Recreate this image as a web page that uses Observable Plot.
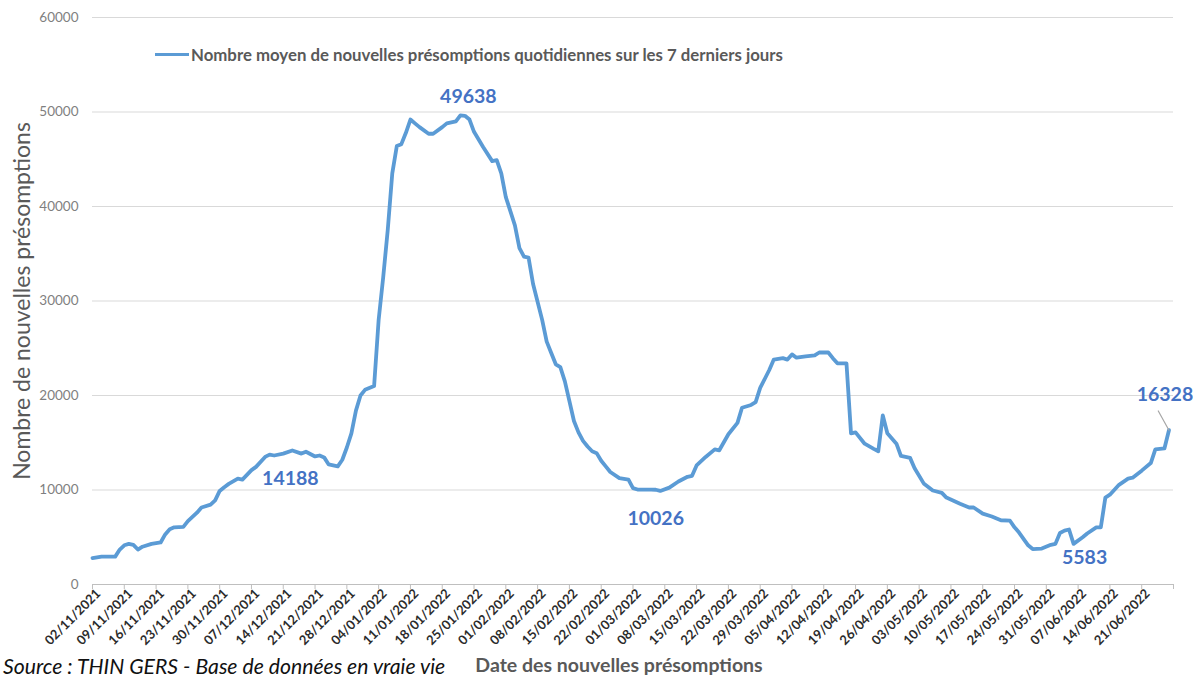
<!DOCTYPE html>
<html>
<head>
<meta charset="utf-8">
<script src="https://cdn.jsdelivr.net/npm/d3@7"></script>
<script src="https://cdn.jsdelivr.net/npm/@observablehq/plot@0.6"></script>
<style>
  body { margin: 0; background: #fff; }
  #wrap { position: relative; width: 1193px; height: 678px; overflow: hidden; font-family: Lato, "Open Sans", sans-serif; }
  #legend { position: absolute; left: 155px; top: 44px; display: flex; align-items: center; font-weight: bold; font-size: 16.8px; color: #595959; white-space: nowrap; }
  #legend .sw { width: 34px; height: 3.5px; background: #5B9BD5; margin-right: 2px; }
  #source { position: absolute; left: 3px; top: 656px; font-style: italic; font-size: 21.2px; line-height: 20px; color: #111; white-space: nowrap; }
</style>
</head>
<body>
<div id="wrap">
  <div id="chart"></div>
  <div id="legend"><div class="sw"></div><span id="legendText"></span></div>
  <div id="source"></div>
</div>
<script>
// ---- data ----
const dates = [
  "2021-11-02","2021-11-04","2021-11-07","2021-11-08","2021-11-09","2021-11-10","2021-11-11","2021-11-12","2021-11-13","2021-11-15",
  "2021-11-17","2021-11-18","2021-11-19","2021-11-20","2021-11-22","2021-11-23","2021-11-25","2021-11-26","2021-11-28","2021-11-29",
  "2021-11-30","2021-12-01","2021-12-02","2021-12-04","2021-12-05","2021-12-07","2021-12-08","2021-12-10","2021-12-11","2021-12-12",
  "2021-12-14","2021-12-16","2021-12-18","2021-12-19","2021-12-21","2021-12-22","2021-12-23","2021-12-24","2021-12-26","2021-12-27",
  "2021-12-28","2021-12-29","2021-12-30","2021-12-31","2022-01-01","2022-01-03","2022-01-04","2022-01-05","2022-01-06","2022-01-07",
  "2022-01-08","2022-01-09","2022-01-10","2022-01-11","2022-01-12","2022-01-13","2022-01-15","2022-01-16","2022-01-18","2022-01-19",
  "2022-01-21","2022-01-22","2022-01-23","2022-01-24","2022-01-25","2022-01-27","2022-01-29","2022-01-30","2022-01-31","2022-02-01",
  "2022-02-03","2022-02-04","2022-02-05","2022-02-06","2022-02-07","2022-02-09","2022-02-10","2022-02-11","2022-02-12","2022-02-13",
  "2022-02-14","2022-02-15","2022-02-16","2022-02-17","2022-02-18","2022-02-19","2022-02-20","2022-02-21","2022-02-22","2022-02-23",
  "2022-02-24","2022-02-26","2022-02-28","2022-03-01","2022-03-02","2022-03-05","2022-03-06","2022-03-07","2022-03-09","2022-03-11",
  "2022-03-13","2022-03-14","2022-03-15","2022-03-17","2022-03-19","2022-03-20","2022-03-22","2022-03-24","2022-03-25","2022-03-27",
  "2022-03-28","2022-03-29","2022-03-31","2022-04-01","2022-04-03","2022-04-04","2022-04-05","2022-04-06","2022-04-08","2022-04-10",
  "2022-04-11","2022-04-13","2022-04-14","2022-04-15","2022-04-17","2022-04-18","2022-04-19","2022-04-21","2022-04-23","2022-04-24",
  "2022-04-25","2022-04-26","2022-04-28","2022-04-29","2022-05-01","2022-05-02","2022-05-04","2022-05-06","2022-05-08","2022-05-09",
  "2022-05-12","2022-05-14","2022-05-15","2022-05-17","2022-05-19","2022-05-21","2022-05-23","2022-05-24","2022-05-25","2022-05-27",
  "2022-05-28","2022-05-30","2022-06-01","2022-06-02","2022-06-03","2022-06-04","2022-06-05","2022-06-06","2022-06-08","2022-06-09",
  "2022-06-11","2022-06-12","2022-06-13","2022-06-14","2022-06-16","2022-06-18","2022-06-19","2022-06-21","2022-06-23","2022-06-24",
  "2022-06-26","2022-06-27"
];
const values = [
  2800,2950,2950,3700,4150,4300,4200,3700,4000,4300,
  4450,5300,5850,6050,6100,6700,7600,8150,8450,8900,
  9900,10300,10650,11200,11100,12100,12450,13500,13750,13650,
  13850,14188,13850,14050,13550,13650,13450,12700,12500,13200,
  14500,16000,18400,20000,20600,21000,28000,32500,37500,43500,
  46400,46600,47800,49200,48800,48400,47700,47700,48400,48800,
  49000,49638,49600,49200,47900,46300,44800,44900,43500,41000,
  38000,35600,34700,34600,31800,28000,25700,24500,23300,23000,
  21500,19400,17300,16100,15200,14600,14100,13900,13100,12500,
  11900,11250,11100,10200,10050,10050,10026,9900,10250,10900,
  11400,11500,12600,13500,14300,14200,15900,17100,18700,19000,
  19300,20800,22700,23800,23950,23800,24350,24000,24150,24250,
  24550,24550,23950,23400,23400,16000,16100,14900,14350,14100,
  17900,16000,14900,13600,13400,12300,10700,9950,9700,9200,
  8550,8150,8150,7500,7200,6800,6750,6050,5500,4150,
  3750,3800,4200,4300,5450,5700,5820,4300,5000,5400,
  6050,6050,9200,9500,10550,11200,11300,12050,12850,14300,
  14400,16328
];
const tickDates = [
  "2021-11-02","2021-11-09","2021-11-16","2021-11-23","2021-11-30","2021-12-07","2021-12-14","2021-12-21","2021-12-28",
  "2022-01-04","2022-01-11","2022-01-18","2022-01-25","2022-02-01","2022-02-08","2022-02-15","2022-02-22",
  "2022-03-01","2022-03-08","2022-03-15","2022-03-22","2022-03-29","2022-04-05","2022-04-12","2022-04-19","2022-04-26",
  "2022-05-03","2022-05-10","2022-05-17","2022-05-24","2022-05-31","2022-06-07","2022-06-14","2022-06-21"
];
const axisEnd = "2022-06-28";
const yTicks = [0, 10000, 20000, 30000, 40000, 50000, 60000];
const labelDates = ["2021-12-16","2022-01-22","2022-03-06","2022-06-06","2022-06-27"];
const labelValues = [14188, 49638, 10026, 5583, 16328];
const legendLabel = "Nombre moyen de nouvelles présomptions quotidiennes sur les 7 derniers jours";
const yTitle = "Nombre de nouvelles présomptions";
const xTitle = "Date des nouvelles présomptions";
const sourceText = "Source : THIN GERS - Base de données en vraie vie";

// ---- chart ----
const data = dates.map((d, i) => ({date: new Date(d), value: values[i]}));
const labels = labelDates.map((d, i) => ({date: new Date(d), value: labelValues[i], text: String(labelValues[i])}));
const labelOffsets = [[-2, 28], [8, -19], [0, 29], [11, 26], [-4, -35]];
const fmt = d3.utcFormat("%d/%m/%Y");
const endDate = new Date(axisEnd);
const tickList = tickDates.map(d => new Date(d));

const labelMarks = labels.map((l, i) => Plot.text([l], {
  x: "date", y: "value", text: "text",
  dx: labelOffsets[i][0], dy: labelOffsets[i][1],
  fill: "#4472C4", fontWeight: "bold", fontSize: 19.5
}));

const chart = Plot.plot({
  width: 1193, height: 678,
  marginTop: 17, marginBottom: 94, marginLeft: 92, marginRight: 20,
  x: {type: "utc", domain: [new Date(dates[0]), endDate]},
  y: {domain: [0, 60000]},
  style: {fontFamily: "Lato, 'Open Sans', sans-serif", background: "white", overflow: "visible"},
  marks: [
    Plot.gridY(yTicks.slice(1), {stroke: "#d9d9d9", strokeOpacity: 1, strokeWidth: 1.2}),
    Plot.ruleY([0], {stroke: "#bfbfbf", strokeWidth: 1.2}),
    Plot.axisY({ticks: yTicks, tickSize: 0, tickPadding: 14, tickFormat: d => String(d), fontSize: 13.5, fill: "#7f7f7f", label: null}),
    Plot.axisX({ticks: [...tickList, endDate], tickSize: 5, text: null, stroke: "#bfbfbf", label: null}),
    Plot.axisX({
      ticks: tickList, tickFormat: fmt,
      tickRotate: -45, tickSize: 0, tickPadding: 7, dx: 6,
      fill: "#2b2b2b", fontWeight: "bold", fontSize: 13, label: null
    }),
    Plot.line(data, {x: "date", y: "value", stroke: "#5B9BD5", strokeWidth: 3.8, strokeLinejoin: "round", strokeLinecap: "round"}),
    Plot.vector([labels[4]], {
      x: "date", y: "value", length: 22, rotate: -29, anchor: "start",
      stroke: "#a6a6a6", strokeWidth: 1.2,
      shape: {draw(context, l) { context.moveTo(0, 0); context.lineTo(0, -l); }}
    }),
    ...labelMarks,
    Plot.text([yTitle], {text: d => d, frameAnchor: "left", textAnchor: "middle", dx: -70, rotate: -90, fontSize: 23, fill: "#595959"}),
    Plot.text([xTitle], {text: d => d, frameAnchor: "bottom", dx: -14, dy: 87, fontSize: 19.5, fontWeight: "bold", fill: "#595959"})
  ]
});
document.getElementById("chart").appendChild(chart);
document.getElementById("legendText").textContent = legendLabel;
document.getElementById("source").textContent = sourceText;
</script>
</body>
</html>
